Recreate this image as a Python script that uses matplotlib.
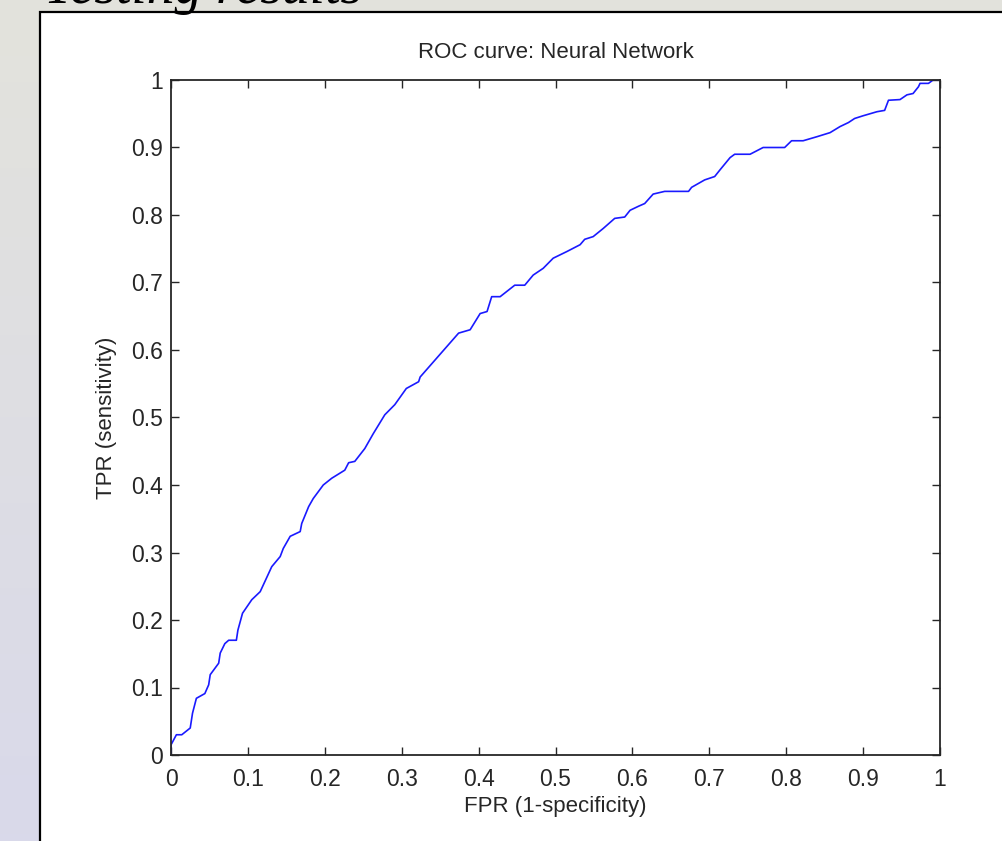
import numpy as np
import matplotlib
matplotlib.use("Agg")
import matplotlib.pyplot as plt
from matplotlib.patches import Rectangle

# ---- data ----
fpr = [0, 0, 0.007, 0.014, 0.025, 0.028, 0.033, 0.044, 0.049, 0.051,
       0.062, 0.064, 0.070, 0.075, 0.085, 0.087, 0.093, 0.105, 0.116, 0.131,
       0.142, 0.146, 0.155, 0.168, 0.170, 0.179, 0.185, 0.198, 0.209, 0.226,
       0.231, 0.239, 0.252, 0.263, 0.278, 0.291, 0.306, 0.322, 0.324, 0.374,
       0.389, 0.402, 0.411, 0.417, 0.428, 0.447, 0.460, 0.471, 0.484, 0.497,
       0.515, 0.532, 0.538, 0.549, 0.562, 0.577, 0.590, 0.597, 0.608, 0.616,
       0.627, 0.642, 0.673, 0.677, 0.694, 0.707, 0.714, 0.727, 0.733, 0.753,
       0.770, 0.798, 0.807, 0.822, 0.840, 0.857, 0.870, 0.881, 0.889, 0.900,
       0.918, 0.928, 0.933, 0.948, 0.957, 0.965, 0.972, 0.974, 0.985, 0.991,
       1.0]
tpr = [0, 0.015, 0.030, 0.030, 0.040, 0.062, 0.084, 0.091, 0.104, 0.119,
       0.136, 0.151, 0.165, 0.170, 0.170, 0.185, 0.210, 0.230, 0.242, 0.279,
       0.294, 0.306, 0.324, 0.331, 0.343, 0.368, 0.380, 0.400, 0.410, 0.422,
       0.433, 0.435, 0.454, 0.476, 0.504, 0.519, 0.543, 0.553, 0.560, 0.625,
       0.630, 0.654, 0.657, 0.679, 0.679, 0.696, 0.696, 0.711, 0.721, 0.736,
       0.746, 0.756, 0.764, 0.768, 0.780, 0.795, 0.797, 0.807, 0.813, 0.817,
       0.831, 0.835, 0.835, 0.841, 0.852, 0.857, 0.867, 0.885, 0.890, 0.890,
       0.900, 0.900, 0.910, 0.910, 0.916, 0.922, 0.931, 0.937, 0.943, 0.947,
       0.953, 0.955, 0.970, 0.971, 0.978, 0.980, 0.990, 0.995, 0.995, 1.0,
       1.0]
xticks = [0, 0.1, 0.2, 0.3, 0.4, 0.5, 0.6, 0.7, 0.8, 0.9, 1]
yticks = [0, 0.1, 0.2, 0.3, 0.4, 0.5, 0.6, 0.7, 0.8, 0.9, 1]
xticklabels = ["0", "0.1", "0.2", "0.3", "0.4", "0.5", "0.6", "0.7", "0.8", "0.9", "1"]
yticklabels = ["0", "0.1", "0.2", "0.3", "0.4", "0.5", "0.6", "0.7", "0.8", "0.9", "1"]
slide_title = "Testing results"
plot_title = "ROC curve: Neural Network"
xlabel = "FPR (1-specificity)"
ylabel = "TPR (sensitivity)"

W, H = 1002, 841
fig = plt.figure(figsize=(W / 100, H / 100), dpi=100)

# slide background gradient
bg = fig.add_axes([0, 0, 1, 1])
bg.set_axis_off()
top = np.array([0.890, 0.890, 0.863])
bot = np.array([0.851, 0.851, 0.918])
t = np.linspace(0, 1, 256)[:, None]
grad = top[None, :] * (1 - t) + bot[None, :] * t
img = np.repeat(grad[:, None, :], 4, axis=1)
bg.imshow(img, aspect="auto", extent=[0, 1, 0, 1], origin="upper")
bg.set_xlim(0, 1)
bg.set_ylim(0, 1)

# white figure panel with black border (left and top visible)
panel = Rectangle((40 / W, -0.05), 1.2, (H - 12) / H + 0.05,
                  transform=fig.transFigure, facecolor="white",
                  edgecolor="black", linewidth=1.6, zorder=2)
bg.add_patch(panel)

# slide title (cut off at the top, as in the reference)
fig.text(44 / W, 1 - 3 / H, slide_title, fontsize=40, style="italic",
         family="Liberation Serif", va="baseline", ha="left", color="black")

# axes
ax = fig.add_axes([171 / W, 1 - 755 / H, 769 / W, 675 / H])
ax.plot(fpr, tpr, color="#1a1aff", linewidth=1.2)
ax.set_xlim(0, 1)
ax.set_ylim(0, 1)
ax.set_xticks(xticks)
ax.set_xticklabels(xticklabels)
ax.set_yticks(yticks)
ax.set_yticklabels(yticklabels)
font = "Liberation Sans"
ax.tick_params(direction="in", length=6, width=1.0, color="#262626",
               top=True, right=True, labelsize=16.5, labelcolor="#262626")
ax.tick_params(axis="x", pad=9)
ax.tick_params(axis="y", pad=6)
for lab in ax.get_xticklabels() + ax.get_yticklabels():
    lab.set_family(font)
for s in ax.spines.values():
    s.set_linewidth(1.3)
    s.set_color("#262626")
ax.set_title(plot_title, fontsize=16, family=font, color="#262626", pad=16)
ax.set_xlabel(xlabel, fontsize=16, family=font, color="#262626", labelpad=4)
ax.set_ylabel(ylabel, fontsize=16, family=font, color="#262626", labelpad=10)

fig.savefig("out.png", dpi=100)
